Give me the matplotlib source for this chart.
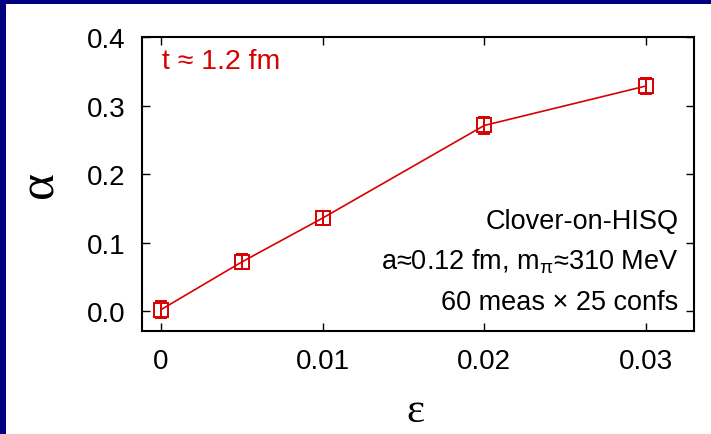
import matplotlib
matplotlib.use('Agg')
import matplotlib.pyplot as plt
from matplotlib.patches import Rectangle

# data
eps = [0.0, 0.005, 0.01, 0.02, 0.03]
alpha = [0.0025, 0.072, 0.136, 0.271, 0.3285]
alpha_err = [0.012, 0.011, 0.010, 0.013, 0.0115]

xticks = [0, 0.01, 0.02, 0.03]
xticklabels = ['0', '0.01', '0.02', '0.03']
yticks = [0.0, 0.1, 0.2, 0.3, 0.4]
yticklabels = ['0.0', '0.1', '0.2', '0.3', '0.4']

red = '#d80000'
navy = '#000080'

plt.rcParams['font.family'] = ['Liberation Sans', 'DejaVu Sans']
plt.rcParams['mathtext.fontset'] = 'custom'
plt.rcParams['mathtext.rm'] = 'Liberation Sans'
plt.rcParams['mathtext.it'] = 'Liberation Sans'
plt.rcParams['mathtext.default'] = 'regular'

fig = plt.figure(figsize=(7.11, 4.35), dpi=100)
fig.patch.set_facecolor('white')
ax = fig.add_axes([142 / 711, 1 - 332 / 435, 552 / 711, 294 / 435])

# navy slide frame (left and top edges)
fig.patches.append(Rectangle((0, 0), 6 / 711, 1, transform=fig.transFigure,
                             facecolor=navy, edgecolor='none', zorder=0))
fig.patches.append(Rectangle((0, 1 - 5 / 435), 1, 5 / 435, transform=fig.transFigure,
                             facecolor=navy, edgecolor='none', zorder=0))

ax.errorbar(eps, alpha, yerr=alpha_err, color=red, lw=1.2, marker='s',
            ms=9.5, mfc='none', mec=red, mew=1.4, capsize=4, capthick=1.4,
            elinewidth=1.4, clip_on=False)

ax.set_xlim(-0.00118, 0.03298)
ax.set_ylim(-0.0287, 0.4)
ax.set_xticks(xticks)
ax.set_xticklabels(xticklabels)
ax.set_yticks(yticks)
ax.set_yticklabels(yticklabels)
ax.tick_params(direction='in', top=True, right=True, length=6, width=1,
               labelsize=20, pad=12)
for s in ax.spines.values():
    s.set_linewidth(1.5)

ax.set_xlabel('ε', fontsize=31, family='Liberation Serif', va='center')
ax.xaxis.set_label_coords(0.496, -0.27)
ax.set_ylabel('α', fontsize=37, family='Liberation Serif', va='center', ha='center')
ax.yaxis.set_label_coords(-0.185, 0.5)

ax.text(0.037, 0.92, 't ≈ 1.2 fm', transform=ax.transAxes, color=red,
        fontsize=20.5, ha='left', va='center')
ax.text(0.972, 0.375, 'Clover-on-HISQ', transform=ax.transAxes,
        fontsize=19.5, ha='right', va='center')
ax.text(0.972, 0.24, r'a≈0.12 fm, m$_\pi$≈310 MeV', transform=ax.transAxes,
        fontsize=19.5, ha='right', va='center')
ax.text(0.972, 0.1, '60 meas × 25 confs', transform=ax.transAxes,
        fontsize=19.5, ha='right', va='center')

fig.savefig('out.png', dpi=100)
